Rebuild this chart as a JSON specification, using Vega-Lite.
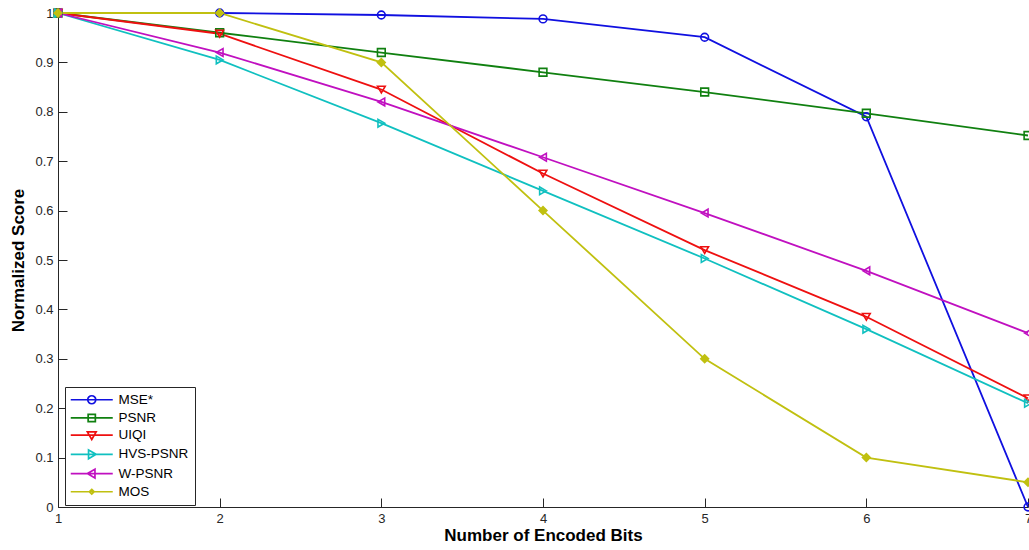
{
  "$schema": "https://vega.github.io/schema/vega-lite/v6.json",
  "width": 970,
  "height": 494,
  "autosize": {"type": "none"},
  "padding": {"left": 58, "top": 13, "right": 1, "bottom": 43},
  "background": "white",
  "config": {
    "view": {"stroke": null},
    "font": "Liberation Sans",
    "axis": {
      "grid": false,
      "domainColor": "#262626",
      "tickColor": "#262626",
      "labelColor": "#262626",
      "titleColor": "black",
      "labelFont": "Liberation Sans",
      "titleFont": "Liberation Sans",
      "labelFontSize": 13,
      "titleFontSize": 17,
      "titleFontWeight": "bold",
      "tickSize": -9,
      "labelFlush": false,
      "labelOverlap": false
    },
    "legend": {
      "orient": "none",
      "legendX": 7,
      "legendY": 374,
      "fillColor": "white",
      "strokeColor": "#262626",
      "padding": 6,
      "symbolSize": 64,
      "symbolOffset": 14,
      "symbolStrokeWidth": 1.7,
      "labelFont": "Liberation Sans",
      "labelFontSize": 13.5,
      "labelColor": "black",
      "labelOffset": 20,
      "rowPadding": 2.2
    }
  },
  "data": {
    "values": [
      {"bits": 1, "series": "MSE*", "score": 1},
      {"bits": 2, "series": "MSE*", "score": 1},
      {"bits": 3, "series": "MSE*", "score": 0.996},
      {"bits": 4, "series": "MSE*", "score": 0.988},
      {"bits": 5, "series": "MSE*", "score": 0.951},
      {"bits": 6, "series": "MSE*", "score": 0.79},
      {"bits": 7, "series": "MSE*", "score": 0},
      {"bits": 1, "series": "PSNR", "score": 1},
      {"bits": 2, "series": "PSNR", "score": 0.96},
      {"bits": 3, "series": "PSNR", "score": 0.92},
      {"bits": 4, "series": "PSNR", "score": 0.88},
      {"bits": 5, "series": "PSNR", "score": 0.84},
      {"bits": 6, "series": "PSNR", "score": 0.797},
      {"bits": 7, "series": "PSNR", "score": 0.752},
      {"bits": 1, "series": "UIQI", "score": 1},
      {"bits": 2, "series": "UIQI", "score": 0.958},
      {"bits": 3, "series": "UIQI", "score": 0.845},
      {"bits": 4, "series": "UIQI", "score": 0.675},
      {"bits": 5, "series": "UIQI", "score": 0.52},
      {"bits": 6, "series": "UIQI", "score": 0.385},
      {"bits": 7, "series": "UIQI", "score": 0.22},
      {"bits": 1, "series": "HVS-PSNR", "score": 1},
      {"bits": 2, "series": "HVS-PSNR", "score": 0.905},
      {"bits": 3, "series": "HVS-PSNR", "score": 0.777},
      {"bits": 4, "series": "HVS-PSNR", "score": 0.64},
      {"bits": 5, "series": "HVS-PSNR", "score": 0.503},
      {"bits": 6, "series": "HVS-PSNR", "score": 0.36},
      {"bits": 7, "series": "HVS-PSNR", "score": 0.21},
      {"bits": 1, "series": "W-PSNR", "score": 1},
      {"bits": 2, "series": "W-PSNR", "score": 0.92},
      {"bits": 3, "series": "W-PSNR", "score": 0.82},
      {"bits": 4, "series": "W-PSNR", "score": 0.708},
      {"bits": 5, "series": "W-PSNR", "score": 0.595},
      {"bits": 6, "series": "W-PSNR", "score": 0.478},
      {"bits": 7, "series": "W-PSNR", "score": 0.352},
      {"bits": 1, "series": "MOS", "score": 1},
      {"bits": 2, "series": "MOS", "score": 1},
      {"bits": 3, "series": "MOS", "score": 0.9},
      {"bits": 4, "series": "MOS", "score": 0.6},
      {"bits": 5, "series": "MOS", "score": 0.3},
      {"bits": 6, "series": "MOS", "score": 0.1},
      {"bits": 7, "series": "MOS", "score": 0.05}
    ]
  },
  "encoding": {
    "x": {
      "field": "bits",
      "type": "quantitative",
      "scale": {"domain": [1, 7], "nice": false, "zero": false},
      "axis": {"title": "Number of Encoded Bits", "values": [1, 2, 3, 4, 5, 6, 7], "format": "d", "labelPadding": 14, "titlePadding": 2}
    },
    "y": {
      "field": "score",
      "type": "quantitative",
      "scale": {"domain": [0, 1], "nice": false},
      "axis": {"title": "Normalized Score", "values": [0, 0.1, 0.2, 0.3, 0.4, 0.5, 0.6, 0.7, 0.8, 0.9, 1], "format": "~g", "labelPadding": 14, "titlePadding": 7}
    },
    "color": {
      "field": "series",
      "type": "nominal",
      "scale": {
        "domain": ["MSE*", "PSNR", "UIQI", "HVS-PSNR", "W-PSNR", "MOS"],
        "range": ["#1010e0", "#108010", "#ee1010", "#10c0c0", "#c010c0", "#c0c010"]
      },
      "legend": null
    }
  },
  "layer": [
    {
      "mark": {"type": "point", "filled": false, "size": 64, "opacity": 0},
      "encoding": {
        "color": {
          "field": "series",
          "type": "nominal",
          "legend": {"title": null, "encode": {"symbols": {"update": {"opacity": {"value": 1}}}}}
        },
        "shape": {
          "field": "series",
          "type": "nominal",
          "scale": {
            "domain": ["MSE*", "PSNR", "UIQI", "HVS-PSNR", "W-PSNR", "MOS"],
            "range": [
              "M-5.25,0H5.25M-1,0A1,1 0 1,0 1,0A1,1 0 1,0 -1,0",
              "M-5.25,0H5.25M-0.9,-0.9H0.9V0.9H-0.9Z",
              "M-5.25,0H5.25M-1.1,-0.8H1.1L0,1.1Z",
              "M-5.25,0H5.25M-0.8,-1.1L1.1,0L-0.8,1.1Z",
              "M-5.25,0H5.25M0.8,-1.1L-1.1,0L0.8,1.1Z",
              "M-5.25,0H5.25M0,-0.6L0.6,0L0,0.6L-0.6,0Z"
            ]
          },
          "legend": {"title": null, "encode": {"symbols": {"update": {"opacity": {"value": 1}}}}}
        }
      }
    },
    {
      "mark": {"type": "line", "strokeWidth": 1.8, "clip": false}
    },
    {
      "mark": {"type": "point", "filled": false, "size": 60, "strokeWidth": 1.6, "opacity": 1, "clip": false},
      "encoding": {
        "shape": {
          "condition": [
            {"test": "datum.series === 'PSNR'", "value": "square"},
            {"test": "datum.series === 'UIQI'", "value": "triangle-down"},
            {"test": "datum.series === 'HVS-PSNR'", "value": "triangle-right"},
            {"test": "datum.series === 'W-PSNR'", "value": "triangle-left"},
            {"test": "datum.series === 'MOS'", "value": "diamond"}
          ],
          "value": "circle"
        },
        "fill": {
          "condition": {"test": "datum.series === 'MOS'", "value": "#c0c010"},
          "value": "transparent"
        }
      }
    }
  ]
}
